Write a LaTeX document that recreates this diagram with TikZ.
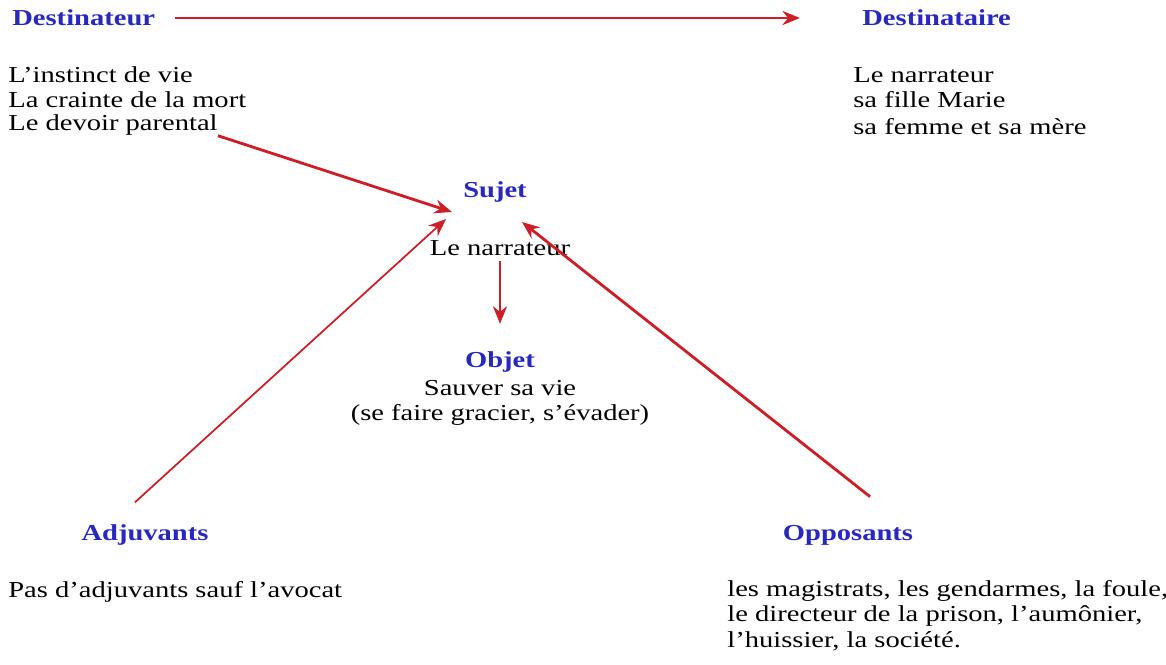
\documentclass[tikz,border=0pt]{standalone}
\usepackage{fontspec}
\setmainfont[FakeStretch=1.25]{Liberation Serif}
\usepackage{xcolor}
\usetikzlibrary{arrows.meta}
\definecolor{roleblue}{RGB}{40,40,190}
\definecolor{arrowred}{RGB}{205,30,40}

\begin{document}
\begin{tikzpicture}[x=0.02cm, y=-0.02cm,
  role/.style={font=\fontsize{13}{15}\selectfont\bfseries, text=roleblue, inner sep=0pt},
  txt/.style={font=\fontsize{13}{14.5}\selectfont, inner sep=0pt, align=left},
  arr/.style={draw=arrowred, line width=1.6pt, -{Stealth[length=10pt,width=8pt]}}]
     \useasboundingbox (0,0) rectangle (1166,664);

     % actants
     \node[role, anchor=west] (destr) at (12,18) {Destinateur};
     \node[role, anchor=west] (desta) at (862,18) {Destinataire};
     \node[role] (sujet) at (495,192) {Sujet};
     \node[role] (objet) at (500,362) {Objet};
     \node[role] (adj) at (145,535) {Adjuvants};
     \node[role] (opp) at (848,535) {Opposants};

     % texts
     \node[txt, anchor=west] (d1) at (8,75) {L'instinct de vie};
     \node[txt, anchor=west] (d2) at (8,100) {La crainte de la mort};
     \node[txt, anchor=west] (d3) at (8,125) {Le devoir parental};
     \node[txt, anchor=west] (a1) at (853,75) {Le narrateur};
     \node[txt, anchor=west] (a2) at (853,100) {sa fille Marie};
     \node[txt, anchor=west] (a3) at (853,127) {sa femme et sa mère};
     \node[txt] (narr) at (500,248) {Le narrateur};
     \node[txt, align=center] (objtxt) at (500,403) {Sauver sa vie\\(se faire gracier, s'évader)};
     \node[txt, anchor=west] (adjtxt) at (8,592) {Pas d'adjuvants sauf l'avocat};
     \node[txt, anchor=north west] (opptxt) at (727,580) {les magistrats, les gendarmes, la foule,\\le directeur de la prison, l'aumônier,\\l'huissier, la société.};

     \coordinate (inL) at (452,212);
     \coordinate (inA) at (446,219);
     \coordinate (inR) at (522,222);

     \draw[arr, shorten <=0.4cm, shorten >=1.24cm] (destr) -- (desta);
     \draw[arr] (d3.south east) -- (inL);
     \draw[arr, line width=1pt] ([shift={(-10,-22)}]adj.north) -- (inA);
     \draw[arr] ([shift={(22,-28)}]opp.north) -- (inR);
     \draw[arr, shorten <=0.1cm, shorten >=0.55cm] (narr) -- (objet);
    \end{tikzpicture}
\end{document}
